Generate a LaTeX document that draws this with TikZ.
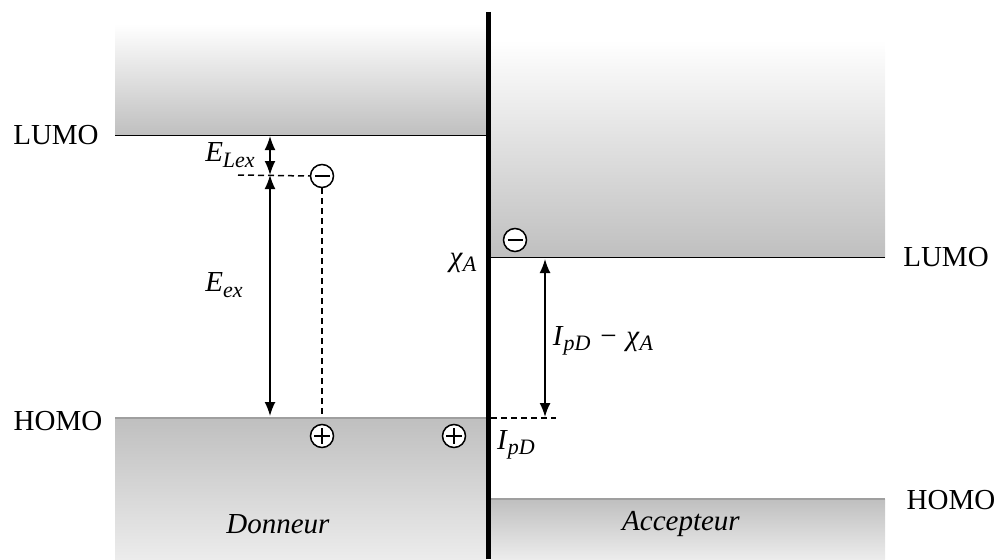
\documentclass[tikz,border=0pt]{standalone}
\usepackage{fontspec}
\setmainfont{Liberation Serif}
\usetikzlibrary{arrows.meta}
\newcommand{\lsub}[1]{\raisebox{-0.4ex}{\fontsize{22}{24}\selectfont\itshape #1}}
\begin{document}
\begin{tikzpicture}[x=1pt,y=-1pt,
  lbl/.style={font=\fontsize{29}{33}\selectfont, inner sep=0pt},
  lvl/.style={line width=1pt},
  hlvl/.style={line width=1.2pt, draw=gray!75},
  dbl/.style={arrows={Latex[length=14pt,width=11pt]-Latex[length=14pt,width=11pt]}, line width=1.6pt},
  dsh/.style={dash pattern=on 6pt off 4pt, line width=1.5pt},
  chg/.style={circle, draw, fill=white, minimum size=23pt, inner sep=0pt, line width=1.5pt},
  minus/.style={chg, path picture={\draw[line width=1.4pt] (path picture bounding box.center) +(-7,0) -- +(8,0);}},
  plus/.style={chg, path picture={\draw[line width=1.4pt] (path picture bounding box.center) +(-8,0) -- +(8,0) (path picture bounding box.center) +(0,-8) -- +(0,8);}},
]
\useasboundingbox (0,0) rectangle (1000,559);
% bands
\shade[top color=white, bottom color=gray!50] (115,24) rectangle (487,135);
\shade[top color=white, bottom color=gray!50] (491,40) rectangle (885,257);
\shade[top color=gray!50, bottom color=gray!15] (115,418) rectangle (487,559);
\shade[top color=gray!50, bottom color=gray!15] (491,499) rectangle (885,559);
% levels
\draw[lvl] (115,135) -- (487,135);
\draw[lvl] (491,257) -- (885,257);
\draw[hlvl] (115,418) -- (487,418);
\draw[hlvl] (491,499) -- (885,499);
% interface
\draw[line width=5pt] (488,12) -- (488,559);
% labels
\node[lbl] (lumoD) at (56,135) {LUMO};
\node[lbl] (homoD) at (58,421) {HOMO};
\node[lbl] (lumoA) at (946,257) {LUMO};
\node[lbl] (homoA) at (951,500) {HOMO};
\node[lbl] (don) at (278,524) {\textit{Donneur}};
\node[lbl] (acc) at (681,524) {\textit{Accepteur}};
\node[lbl] (elex) at (230,155) {\textit{E}\lsub{Lex}};
\node[lbl] (eex) at (224,285) {\textit{E}\lsub{ex}};
\node[lbl] (chi) at (463,263) {\textit{χ}\lsub{A}};
\node[lbl] (ipdchi) at (603,341) {\textit{I}\lsub{pD}\,\,−\,\,\textit{χ}\lsub{A}};
\node[lbl] (ipd) at (516,445) {\textit{I}\lsub{pD}};
% charges
\node[minus] (e1) at (322,176) {};
\node[minus] (e2) at (515,240) {};
\node[plus] (h1) at (322,436) {};
\node[plus] (h2) at (454,436) {};
% arrows
\coordinate (pL) at (270,136);
\coordinate (pM) at (270,175);
\coordinate (pH) at (270,416);
\coordinate (dL) at (238,175);
\coordinate (hD) at (322,418);
\coordinate (qT) at (545,259);
\coordinate (qB) at (545,417);
\coordinate (iL) at (491,418);
\coordinate (iR) at (556,418);
\draw[dbl] (pL) -- (pM);
\draw[dbl] (pM) -- (pH);
\draw[dsh] (dL) -- (e1.west);
\draw[dsh] (e1.south) -- (hD);
\draw[dbl] (qT) -- (qB);
\draw[dsh] (iL) -- (iR);
\end{tikzpicture}
\end{document}
